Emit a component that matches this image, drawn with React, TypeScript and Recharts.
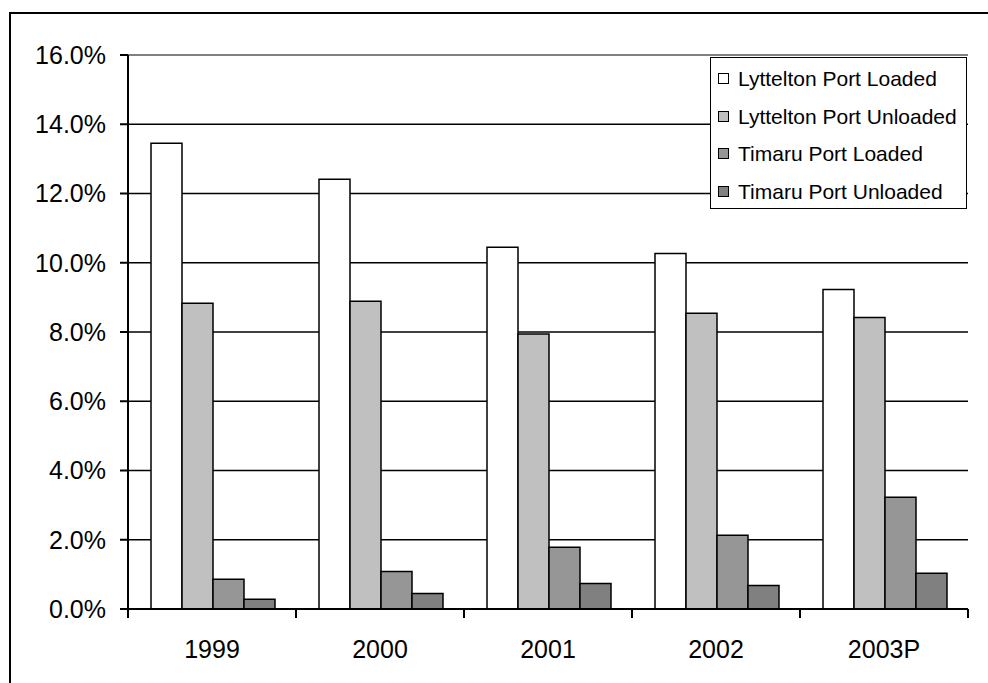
import React from 'react';
import { BarChart, Bar, XAxis, YAxis, CartesianGrid, Legend, ReferenceLine } from 'recharts';

const categories = ['1999', '2000', '2001', '2002', '2003P'];
const lyttLoaded = [13.45, 12.41, 10.45, 10.27, 9.23];
const lyttUnloaded = [8.83, 8.89, 7.94, 8.54, 8.42];
const timLoaded = [0.86, 1.08, 1.78, 2.13, 3.23];
const timUnloaded = [0.28, 0.45, 0.74, 0.68, 1.03];
const yTicks = [0, 2, 4, 6, 8, 10, 12, 14, 16];

const seriesNames = ['Lyttelton Port Loaded', 'Lyttelton Port Unloaded', 'Timaru Port Loaded', 'Timaru Port Unloaded'];
const seriesColors = ['#FFFFFF', '#C0C0C0', '#969696', '#808080'];

const data = categories.map((c, i) => ({
  year: c,
  ll: lyttLoaded[i],
  lu: lyttUnloaded[i],
  tl: timLoaded[i],
  tu: timUnloaded[i],
}));

const FONT = "'Liberation Sans', Arial, sans-serif";
const W = 988;
const H = 683;
const MARGIN = { top: 55, right: 20, bottom: 0, left: 0 };
const Y_W = 128;
const X_H = 74;
const X_TICK_OFFSET = 31;
const BAND = (W - MARGIN.left - MARGIN.right - Y_W) / categories.length;

const XTick = (props: any) => {
  const { x, y, payload, index } = props;
  const axisY = y - X_TICK_OFFSET;
  const half = BAND / 2;
  return (
    <g>
      <line x1={x - half} x2={x - half} y1={axisY} y2={axisY + 9} stroke="#000" strokeWidth={2} />
      {index === categories.length - 1 && (
        <line x1={x + half} x2={x + half} y1={axisY} y2={axisY + 9} stroke="#000" strokeWidth={2} />
      )}
      <text x={x} y={y} dy="0.71em" textAnchor="middle" fill="#000" fontSize={25} fontFamily={FONT}>
        {payload.value}
      </text>
    </g>
  );
};

const LegendBox = (props: any) => {
  const { payload } = props;
  return (
    <div
      style={{
        width: 257,
        height: 152,
        boxSizing: 'border-box',
        border: '1.5px solid #000',
        background: '#fff',
        paddingTop: 2,
        fontFamily: FONT,
        fontSize: 21,
        color: '#000',
      }}
    >
      {(payload || []).map((p: any) => (
        <div key={p.value} style={{ height: 37.5, display: 'flex', alignItems: 'center', paddingLeft: 7 }}>
          <span
            style={{
              display: 'inline-block',
              width: 11,
              height: 11,
              boxSizing: 'border-box',
              border: '1.5px solid #000',
              background: p.color,
              marginRight: 9,
            }}
          />
          <span style={{ whiteSpace: 'nowrap', lineHeight: '21px' }}>{p.value}</span>
        </div>
      ))}
    </div>
  );
};

export default function App() {
  return (
    <div style={{ position: 'fixed', left: 0, top: 0, width: W, height: H, background: '#fff', overflow: 'hidden' }}>
      <div
        style={{
          position: 'absolute',
          left: 9,
          top: 12,
          width: W + 20,
          height: H + 20,
          borderTop: '2.5px solid #000',
          borderLeft: '2.5px solid #000',
        }}
      />
      <div style={{ position: 'absolute', left: 0, top: 0 }}>
        <BarChart width={W} height={H} data={data} margin={MARGIN} barCategoryGap={23} barGap={0}>
          <CartesianGrid horizontal vertical={false} stroke="#000" strokeWidth={1.5} />
          <ReferenceLine y={16} stroke="#808080" strokeWidth={2} />
          <XAxis
            dataKey="year"
            height={X_H}
            tickLine={false}
            tickSize={0}
            tickMargin={X_TICK_OFFSET}
            axisLine={{ stroke: '#000', strokeWidth: 2 }}
            tick={<XTick />}
            interval={0}
          />
          <YAxis
            width={Y_W}
            domain={[0, 16]}
            ticks={yTicks}
            interval={0}
            tickSize={8}
            tickMargin={14}
            tickFormatter={(v: number) => v.toFixed(1) + '%'}
            axisLine={{ stroke: '#000', strokeWidth: 2 }}
            tickLine={{ stroke: '#000', strokeWidth: 2 }}
            tick={{ fill: '#000', fontSize: 25, fontFamily: FONT }}
          />
          <YAxis
            yAxisId="right"
            orientation="right"
            width={0}
            domain={[0, 16]}
            tick={false}
            tickLine={false}
            axisLine={{ stroke: '#808080', strokeWidth: 2 }}
          />
          <Legend
            layout="vertical"
            align="center"
            verticalAlign="middle"
            content={<LegendBox />}
            wrapperStyle={{ position: 'absolute', left: 710, top: 57, width: 257, height: 152 }}
          />
          <Bar dataKey="ll" name={seriesNames[0]} fill={seriesColors[0]} stroke="#000" strokeWidth={1.5} isAnimationActive={false} />
          <Bar dataKey="lu" name={seriesNames[1]} fill={seriesColors[1]} stroke="#000" strokeWidth={1.5} isAnimationActive={false} />
          <Bar dataKey="tl" name={seriesNames[2]} fill={seriesColors[2]} stroke="#000" strokeWidth={1.5} isAnimationActive={false} />
          <Bar dataKey="tu" name={seriesNames[3]} fill={seriesColors[3]} stroke="#000" strokeWidth={1.5} isAnimationActive={false} />
        </BarChart>
      </div>
    </div>
  );
}
